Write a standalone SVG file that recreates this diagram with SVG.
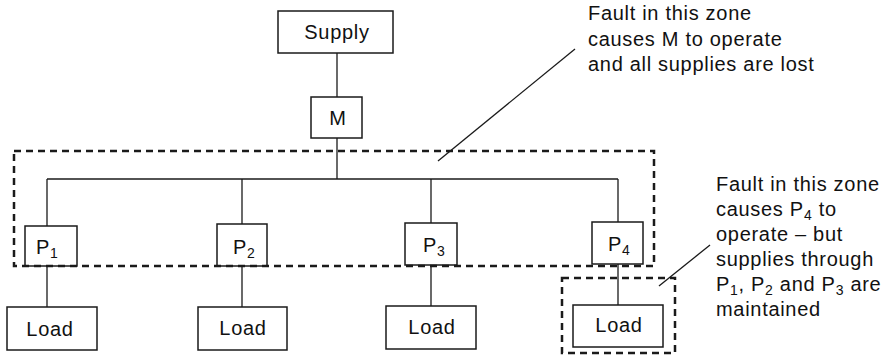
<svg xmlns="http://www.w3.org/2000/svg" width="892" height="357" viewBox="0 0 892 357">
<style>
.box{fill:#fff;stroke:#1a1a1a;stroke-width:1.5}
.ln{stroke:#1a1a1a;stroke-width:1.3;fill:none}
.zone{fill:none;stroke:#1a1a1a;stroke-width:2.5;stroke-dasharray:7 5}
text{font-family:"Liberation Sans",Arial,sans-serif;font-size:20px;fill:#111;letter-spacing:0.7px}
.mid{text-anchor:middle}
.sub{font-size:14px}
</style>
<rect width="892" height="357" fill="#fff"/>
<g id="connectors">
<line class="ln" x1="337" y1="53" x2="337" y2="97"/>
<line class="ln" x1="337" y1="138" x2="337" y2="179"/>
<line class="ln" x1="47" y1="179" x2="618" y2="179"/>
<line class="ln" x1="47" y1="179" x2="47" y2="226"/>
<line class="ln" x1="242" y1="179" x2="242" y2="224"/>
<line class="ln" x1="431" y1="179" x2="431" y2="223"/>
<line class="ln" x1="618" y1="179" x2="618" y2="222"/>
<line class="ln" x1="47" y1="266" x2="47" y2="307"/>
<line class="ln" x1="242" y1="266" x2="242" y2="307"/>
<line class="ln" x1="431" y1="265" x2="431" y2="306"/>
<line class="ln" x1="618" y1="264" x2="618" y2="305"/>
</g>
<g id="supply"><rect class="box" x="278" y="11" width="115" height="42"/><text class="mid" x="337" y="39">Supply</text></g>
<g id="M"><rect class="box" x="311" y="97" width="51" height="41"/><text class="mid" x="338" y="125">M</text></g>
<g id="P1"><rect class="box" x="25" y="226" width="52" height="40"/><text x="36" y="254">P<tspan class="sub" dy="4">1</tspan></text></g>
<g id="P2"><rect class="box" x="217" y="224" width="50" height="42"/><text x="233" y="254">P<tspan class="sub" dy="4">2</tspan></text></g>
<g id="P3"><rect class="box" x="405" y="223" width="52" height="42"/><text x="423" y="252">P<tspan class="sub" dy="4">3</tspan></text></g>
<g id="P4"><rect class="box" x="592" y="222" width="51" height="42"/><text x="608" y="251">P<tspan class="sub" dy="4">4</tspan></text></g>
<g id="load1"><rect class="box" x="7" y="307" width="90" height="43"/><text class="mid" x="50" y="336">Load</text></g>
<g id="load2"><rect class="box" x="198" y="307" width="89" height="43"/><text class="mid" x="243" y="335">Load</text></g>
<g id="load3"><rect class="box" x="386" y="306" width="90" height="43"/><text class="mid" x="432" y="334">Load</text></g>
<g id="load4"><rect class="box" x="573" y="305" width="90" height="42"/><text class="mid" x="619" y="332">Load</text></g>
<g id="zones">
<rect class="zone" x="14" y="151" width="640" height="115"/>
<rect class="zone" x="562" y="278" width="113" height="75"/>
</g>
<g id="annotations">
<line class="ln" stroke-width="1.8" x1="575" y1="49" x2="438" y2="161"/>
<line class="ln" stroke-width="1.8" x1="710" y1="245" x2="659" y2="286"/>
<text x="588" y="20">Fault in this zone</text>
<text x="588" y="45.5">causes M to operate</text>
<text x="588" y="71">and all supplies are lost</text>
<text x="716" y="191">Fault in this zone</text>
<text x="716" y="216">causes P<tspan class="sub" dy="4">4</tspan><tspan dy="-4"> to</tspan></text>
<text x="716" y="241">operate – but</text>
<text x="716" y="266">supplies through</text>
<text x="716" y="291">P<tspan class="sub" dy="4">1</tspan><tspan dy="-4">, P</tspan><tspan class="sub" dy="4">2</tspan><tspan dy="-4"> and P</tspan><tspan class="sub" dy="4">3</tspan><tspan dy="-4"> are</tspan></text>
<text x="716" y="316">maintained</text>
</g>
</svg>
